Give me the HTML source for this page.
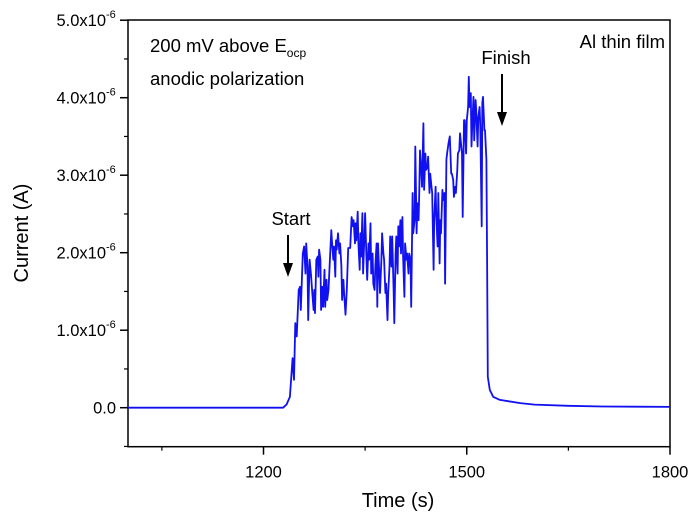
<!DOCTYPE html>
<html><head><meta charset="utf-8"><style>
body{margin:0;background:#fff}
svg{font-family:"Liberation Sans",Arial,sans-serif}
</style></head><body>
<svg id="chart" width="700" height="525">
<g id="axes"></g>
<path id="line" fill="none" stroke="#1010f0" stroke-width="1.8" stroke-linejoin="round"/>
<text x="150" y="52" font-size="18.5">200 mV above E<tspan font-size="12" dy="5">ocp</tspan></text>
<text x="150" y="85" font-size="18.5">anodic polarization</text>
<text x="665" y="48" font-size="18.5" text-anchor="end">Al thin film</text>
<text x="291" y="225" font-size="18.5" text-anchor="middle">Start</text>
<g><line x1="288" y1="235" x2="288" y2="266" stroke="#000" stroke-width="2"/><polygon points="283,263 293,263 288,277" fill="#000"/></g>
<text x="506" y="64" font-size="18.5" text-anchor="middle">Finish</text>
<g><line x1="502" y1="74" x2="502" y2="115" stroke="#000" stroke-width="2"/><polygon points="497,112 507,112 502,126" fill="#000"/></g>
<text x="398" y="507" font-size="20" text-anchor="middle">Time (s)</text>
<text transform="translate(28,233) rotate(-90)" font-size="20" text-anchor="middle">Current (A)</text>
</svg>
<script>
const times=[1000,1195,1229,1234,1239,1243,1245,1247,1249,1252,1254,1255,1258,1260,1262,1263,1265,1266,1268,1270,1272,1274,1275,1276,1278,1280,1281,1282,1284,1285,1287,1288,1290,1291,1293,1294,1296,1298,1300,1301,1303,1304,1306,1307,1308,1310,1312,1313,1315,1316,1318,1319,1321,1323,1325,1328,1330,1332,1333,1335,1336,1337,1339,1340,1342,1343,1344,1346,1347,1349,1350,1352,1353,1355,1356,1358,1359,1361,1362,1364,1365,1367,1368,1369,1371,1372,1374,1375,1377,1378,1380,1381,1383,1384,1386,1387,1389,1390,1392,1393,1395,1396,1398,1399,1400,1402,1403,1405,1406,1408,1409,1411,1412,1414,1415,1417,1418,1420,1421,1423,1424,1426,1427,1429,1430,1431,1433,1434,1436,1437,1439,1440,1442,1443,1445,1446,1448,1449,1451,1452,1454,1455,1457,1458,1460,1461,1462,1464,1465,1467,1468,1470,1471,1473,1475,1477,1478,1480,1481,1483,1484,1486,1487,1489,1490,1492,1493,1494,1496,1497,1499,1500,1502,1503,1504,1506,1507,1508,1510,1511,1513,1514,1516,1517,1519,1520,1522,1523,1524,1526,1527,1529,1530,1531,1534,1539,1549,1579,1600,1650,1700,1800];
const currents=[0,0,0,0.04,0.14,0.64,0.36,1.09,0.92,1.52,1.56,1.26,1.99,2.08,1.73,2.12,1.82,1.13,1.91,1.73,1.48,1.26,1.52,1.22,1.91,1.95,1.69,2.04,1.91,1.26,1.56,1.30,1.78,1.30,1.65,1.39,1.52,1.91,2.29,2.16,1.91,2.08,1.69,2.16,2.04,2.25,1.99,2.12,1.82,1.39,1.65,1.48,1.20,1.52,2.06,2.06,2.46,2.34,2.42,2.12,2.38,2.16,2.53,2.12,1.78,2.25,1.95,2.51,1.73,2.21,2.51,1.91,1.65,2.12,1.91,2.38,1.73,1.99,1.60,1.52,1.82,2.12,1.30,2.12,1.69,1.48,1.91,2.25,1.99,1.91,1.48,1.60,1.13,1.48,1.82,2.21,1.82,2.21,1.52,1.09,1.99,2.21,1.73,2.34,2.08,2.42,1.99,2.46,1.95,1.43,2.12,1.91,1.99,1.73,1.99,1.91,1.30,2.77,2.25,2.42,3.37,2.25,2.64,2.42,2.81,3.32,3.02,2.85,3.67,2.81,3.28,3.07,3.11,3.24,2.77,3.02,2.85,2.77,1.78,2.42,2.85,2.46,2.08,2.77,1.86,2.42,2.25,2.81,2.68,2.77,1.60,3.20,3.28,3.41,3.50,3.02,3.02,2.94,2.72,2.85,2.77,3.07,3.28,3.32,3.54,3.37,3.28,2.46,3.71,3.71,3.28,3.71,3.88,4.27,3.88,4.06,3.37,3.63,4.01,3.45,3.97,3.84,3.37,3.75,3.88,3.63,2.34,3.93,4.01,3.58,3.58,3.20,1.91,0.40,0.23,0.14,0.10,0.06,0.04,0.025,0.015,0.01];
const xMajor=[1200,1500,1800];
const xMinor=[1050,1350,1650];
const yMajor=[0,1,2,3,4,5];
const yMinor=[-0.5,0.5,1.5,2.5,3.5,4.5];
const yLabels=["0.0","1.0x10","2.0x10","3.0x10","4.0x10","5.0x10"];
const L=128,R=670,T=20,B=446.7;
const x=t=>L+(t-1000)/800*(R-L);
const y=v=>407.7-v*77.5;
const NS="http://www.w3.org/2000/svg";
const ax=document.getElementById('axes');
function mk(tag,attrs,parent){const e=document.createElementNS(NS,tag);for(const k in attrs)e.setAttribute(k,attrs[k]);(parent||ax).appendChild(e);return e;}
const frame=mk('rect',{x:L,y:T,width:R-L,height:B-T,fill:'none',stroke:'#000','stroke-width':1.5});


xMajor.forEach(t=>{
 const tk=mk('line',{x1:x(t),x2:x(t),y1:B,y2:B+8,stroke:'#000','stroke-width':1.5});
 
 
 const tx=mk('text',{x:x(t),y:B+31,'font-size':16.5,'text-anchor':'middle'});tx.textContent=t;
 
 
});
xMinor.forEach(t=>{
 const tk=mk('line',{x1:x(t),x2:x(t),y1:B,y2:B+4,stroke:'#000','stroke-width':1.2});
 
 
});
yMajor.forEach((v,i)=>{
 const tk=mk('line',{x1:L-8,x2:L,y1:y(v),y2:y(v),stroke:'#000','stroke-width':1.5});
 
 
 const tx=mk('text',{x:L-12,y:y(v)+6,'font-size':16.5,'text-anchor':'end'});
 
 
 if(v===0){tx.textContent=yLabels[i];}
 else{tx.setAttribute('x',L-22);tx.textContent=yLabels[i];
  const s=mk('text',{x:L-22,y:y(v)-2,'font-size':11,'text-anchor':'start'});s.textContent='-6';
  
  }
});
yMinor.forEach(v=>{
 const tk=mk('line',{x1:L-4,x2:L,y1:y(v),y2:y(v),stroke:'#000','stroke-width':1.2});
 
 
});
document.getElementById('line').setAttribute('d',times.map((t,i)=>(i?'L':'M')+x(t).toFixed(1)+','+y(currents[i]).toFixed(1)).join(''));
</script>
</body></html>
